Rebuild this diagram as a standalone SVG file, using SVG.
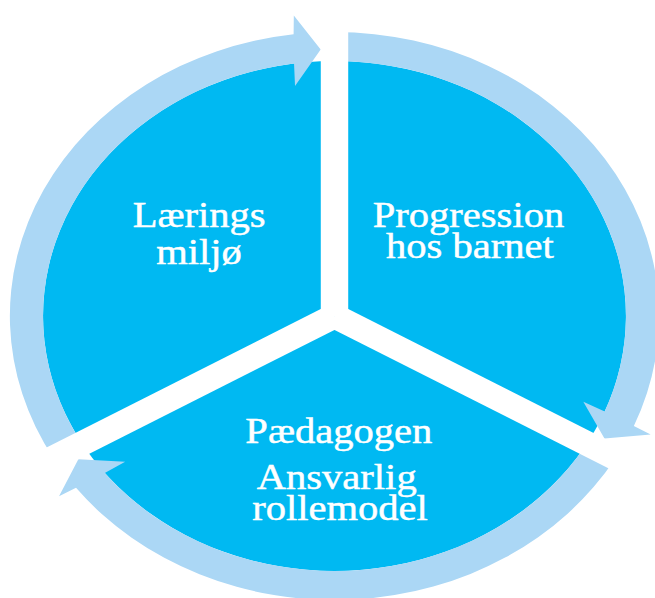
<svg xmlns="http://www.w3.org/2000/svg" width="655" height="598" viewBox="0 0 655 598">
<style>
.sector{fill:#00B9F2}
.arrow{fill:#ABD7F5}
.gap{stroke:#FFFFFF;stroke-width:24;stroke-linecap:butt;fill:none}
.label{font-family:"Liberation Serif","Times New Roman",serif;font-size:35.5px;fill:#FFFFFF;stroke:#FFFFFF;stroke-width:0.45px;text-anchor:middle}
</style>
<rect width="655" height="598" fill="#FFFFFF"/>
<g transform="translate(334.5,316) scale(1.143,1)">
  <g id="hub">
    <circle class="sector" cx="0" cy="0" r="255"/>
  </g>
  <g id="connectors">
    <path class="arrow" d="M 0,-284 A 284 284 0 0 1 261.9,109.9 L 276.6,118.6 L 236.2,122.4 L 217.7,85.8 L 236.4,95.6 A 255 255 0 0 0 0,-255 Z"/>
    <path class="arrow" d="M 245.95,142 A 284 284 0 0 1 -226.13,171.86 L -241.01,180.24 L -224.1,143.35 L -183.15,145.63 L -200.99,156.92 A 255 255 0 0 0 220.84,127.5 Z"/>
    <path class="arrow" d="M -245.95,142 A 284 284 0 0 1 -35.77,-281.76 L -35.59,-300.5 L -12.09,-266.5 L -34.54,-230 L -35.4,-252.52 A 255 255 0 0 0 -220.84,127.5 Z"/>
  </g>
  <g id="gaps">
    <line class="gap" x1="0" y1="0" x2="0" y2="-330"/>
    <line class="gap" x1="0" y1="0" x2="285.8" y2="165"/>
    <line class="gap" x1="0" y1="0" x2="-285.8" y2="165"/>
  </g>
  <g id="node-laeringsmiljo">
    <text class="label" x="-118.4" y="-89">Lærings</text>
    <text class="label" x="-118.5" y="-52">miljø</text>
  </g>
  <g id="node-progression">
    <text class="label" x="117.2" y="-89">Progression</text>
    <text class="label" x="118.5" y="-57.7">hos barnet</text>
  </g>
  <g id="node-paedagogen">
    <text class="label" x="3.8" y="127.3">Pædagogen</text>
    <text class="label" x="1.9" y="173.5">Ansvarlig</text>
    <text class="label" x="4.8" y="204">rollemodel</text>
  </g>
</g>
</svg>
